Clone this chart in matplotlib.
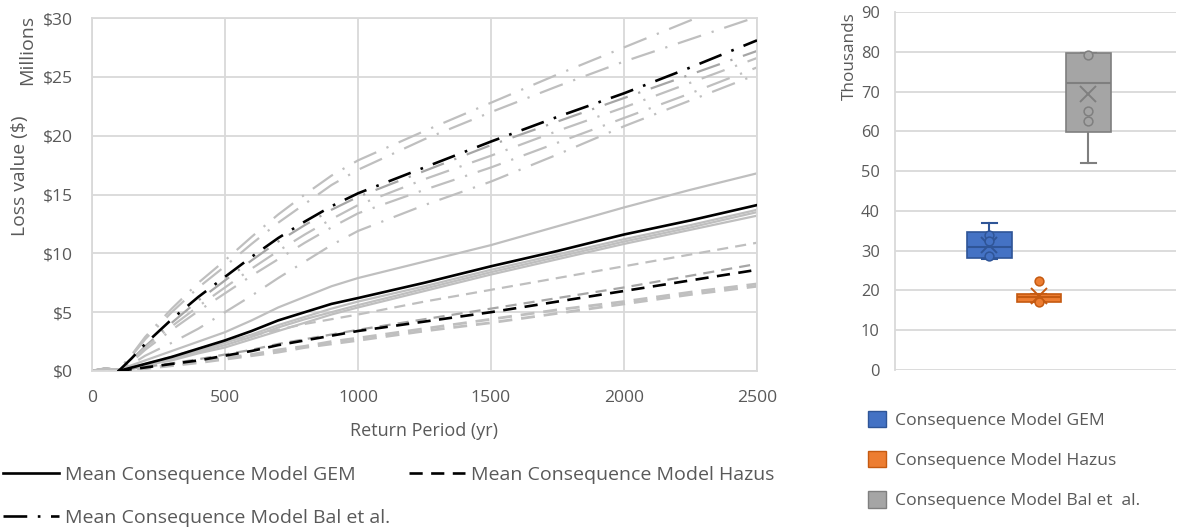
import numpy as np
import matplotlib.pyplot as plt
from matplotlib.patches import Patch

plt.rcParams['font.family'] = ['Open Sans', 'DejaVu Sans']
TXT = '#595959'
GRID = '#d9d9d9'
nan = np.nan

# ---- left chart: loss curves ($ millions) vs return period (yr)
return_period = [0, 50, 100, 150, 200, 300, 400, 500, 600, 700, 800, 900,
                 1000, 1250, 1500, 1750, 2000, 2250, 2500]

gem_mean = [nan, nan, 0.0, 0.3, 0.6, 1.2, 1.9, 2.6, 3.4, 4.3, 5.0, 5.7,
            6.2, 7.5, 8.9, 10.2, 11.6, 12.8, 14.1]
gem_runs = [
    [0, 0.2, 0.1, 0.5, 0.9, 1.7, 2.5, 3.3, 4.3, 5.4, 6.3, 7.2, 7.9, 9.3, 10.7, 12.3, 13.9, 15.4, 16.8],
    [0, 0.2, 0.1, 0.3, 0.6, 1.1, 1.7, 2.4, 3.1, 3.9, 4.6, 5.3, 5.9, 7.2, 8.6, 9.9, 11.2, 12.4, 13.7],
    [0, 0.2, 0.1, 0.3, 0.5, 1.0, 1.6, 2.2, 2.9, 3.7, 4.4, 5.0, 5.6, 7.0, 8.4, 9.7, 11.0, 12.2, 13.5],
    [0, 0.2, 0.1, 0.2, 0.5, 0.9, 1.5, 2.0, 2.7, 3.4, 4.1, 4.8, 5.4, 6.8, 8.2, 9.5, 10.8, 12.0, 13.2],
]

hazus_mean = [nan, nan, 0.0, 0.15, 0.3, 0.6, 0.9, 1.3, 1.7, 2.2, 2.6, 3.0,
              3.4, 4.2, 5.0, 5.9, 6.8, 7.7, 8.6]
hazus_runs = [
    [0, 0.2, 0.1, 0.3, 0.6, 1.2, 1.9, 2.5, 3.0, 3.5, 4.0, 4.4, 4.8, 5.9, 6.9, 7.9, 8.9, 9.9, 10.9],
    [0, 0.2, 0.1, 0.2, 0.35, 0.65, 1.0, 1.4, 1.8, 2.3, 2.7, 3.1, 3.5, 4.4, 5.3, 6.2, 7.1, 8.1, 9.1],
    [0, 0.2, 0.1, 0.15, 0.25, 0.5, 0.8, 1.1, 1.4, 1.8, 2.1, 2.5, 2.8, 3.6, 4.4, 5.2, 5.9, 6.7, 7.4],
    [0, 0.2, 0.1, 0.1, 0.2, 0.45, 0.7, 1.0, 1.3, 1.6, 2.0, 2.3, 2.6, 3.4, 4.1, 4.9, 5.7, 6.5, 7.2],
]

bal_mean = [nan, nan, 0.0, 1.1, 2.3, 4.4, 6.3, 8.0, 9.7, 11.3, 12.7, 14.0,
            15.1, 17.3, 19.5, 21.6, 23.6, 25.8, 28.1]
bal_runs = [
    [0, 0.2, 0.1, 1.4, 2.9, 5.3, 7.5, 9.4, 11.4, 13.3, 15.0, 16.6, 17.9, 20.4, 22.8, 25.2, 27.5, 29.8, 32.2],
    [0, 0.2, 0.1, 1.3, 2.7, 5.0, 7.1, 8.9, 10.8, 12.6, 14.2, 15.8, 17.1, 19.7, 22.0, 24.2, 26.3, 28.2, 30.1],
    [0, 0.2, 0.1, 1.0, 2.1, 4.1, 6.0, 7.7, 9.4, 11.0, 12.4, 13.7, 14.8, 17.0, 19.2, 21.2, 23.2, 25.2, 27.2],
    [0, 0.2, 0.1, 0.9, 2.0, 3.8, 5.5, 7.1, 8.7, 10.2, 11.6, 12.9, 14.1, 16.3, 18.3, 20.4, 22.4, 24.5, 26.6],
    [0, 0.2, 0.1, 0.8, 1.8, 3.5, 5.1, 6.6, 8.1, 9.5, 10.9, 12.2, 13.4, 15.4, 17.3, 19.4, 21.5, 23.6, 25.8],
    [0, 0.2, 0.1, 0.6, 1.3, 2.4, 3.6, 5.0, 6.4, 7.9, 9.3, 10.7, 11.9, 14.1, 16.1, 18.4, 20.8, 23.0, 25.2],
]
line_labels = ['Mean Consequence Model GEM', 'Mean Consequence Model Hazus',
               'Mean Consequence Model Bal et al.']

# ---- right chart: box plot (thousands)
box_labels = ['Consequence Model GEM', 'Consequence Model Hazus',
              'Consequence Model Bal et  al.']
box_whislo = [27.8, 17.0, 52.0]
box_q1 = [28.2, 17.0, 59.9]
box_med = [30.9, 18.3, 72.1]
box_q3 = [34.7, 19.2, 79.6]
box_whishi = [36.9, 19.2, 79.6]
box_mean = [31.4, 18.7, 69.5]
box_points = [[33.9, 32.4, 28.6], [22.5, 17.0], [79.2, 65.0, 62.5]]
box_colors = ['#4472c4', '#ed7d31', '#a5a5a5']
box_edges = ['#2f5597', '#c55a11', '#7f7f7f']

W, H = 1178, 529
fig = plt.figure(figsize=(W / 100, H / 100), dpi=100)

# left axes
ax = fig.add_axes([92 / W, 1 - 371 / H, 665 / W, 353 / H])
dash = (0, (5, 3.2))
dashdot = (0, (9, 4, 1, 4))
for r in gem_runs:
    ax.plot(return_period, r, color='#bfbfbf', lw=1.6, zorder=2)
for i, r in enumerate(hazus_runs):
    ax.plot(return_period, r, color='#a6a6a6' if i == 1 else '#bfbfbf',
            lw=2.0 if i >= 2 else 1.6, linestyle=dash, dash_capstyle='butt', zorder=2)
for i, r in enumerate(bal_runs):
    ax.plot(return_period, r, color='#a6a6a6' if i == 2 else '#bfbfbf',
            lw=1.6, linestyle=(0, (11, 5, 1, 5)), dash_capstyle='butt', zorder=2)
l1, = ax.plot(return_period, gem_mean, color='black', lw=1.9, zorder=3)
l2, = ax.plot(return_period, hazus_mean, color='black', lw=1.9, linestyle=dash,
              dash_capstyle='butt', zorder=3)
l3, = ax.plot(return_period, bal_mean, color='black', lw=1.9, linestyle=dashdot,
              dash_capstyle='butt', zorder=3)

ax.set_xlim(0, 2500)
ax.set_ylim(0, 30)
ax.set_xticks(range(0, 2501, 500))
ax.set_yticks(range(0, 31, 5))
ax.set_yticklabels(['$%d' % v for v in range(0, 31, 5)])
ax.grid(True, color=GRID, lw=1.3)
ax.set_axisbelow(True)
for s in ax.spines.values():
    s.set_color(GRID)
    s.set_linewidth(1.3)
ax.tick_params(axis='both', length=0, labelcolor=TXT, labelsize=12.6)
ax.tick_params(axis='y', pad=13.5)
ax.tick_params(axis='x', pad=14)
ax.set_xlabel('Return Period (yr)', color=TXT, fontsize=13, labelpad=11)
ax.text(-0.108, 0.552, 'Loss value ($)', transform=ax.transAxes, rotation=90,
        ha='center', va='center', color=TXT, fontsize=13.9)
ax.text(-0.0977, 1.009, 'Millions', transform=ax.transAxes, rotation=90,
        ha='center', va='top', color=TXT, fontsize=14)

fig.legend([l1, l3, l2], [line_labels[0], line_labels[2], line_labels[1]],
           ncol=2, loc='upper left', bbox_to_anchor=(3 / W, 1 - 466 / H),
           frameon=False, fontsize=14, handlelength=2.9, handletextpad=0.3,
           columnspacing=0.95, labelspacing=1.27, borderpad=0, borderaxespad=0,
           labelcolor=TXT)

# right axes
ax2 = fig.add_axes([895 / W, 1 - 370 / H, (1176 - 895) / W, 358 / H])
positions = [1, 2, 3]
stats = []
for i in range(3):
    stats.append(dict(whislo=box_whislo[i], q1=box_q1[i], med=box_med[i],
                      q3=box_q3[i], whishi=box_whishi[i], mean=box_mean[i],
                      fliers=[], label=box_labels[i]))
bp = ax2.bxp(stats, positions=positions, widths=0.9, patch_artist=True,
             showmeans=True, capwidths=0.3)
for i in range(3):
    bp['boxes'][i].set(facecolor=box_colors[i], edgecolor=box_edges[i], lw=1.2, zorder=3)
    bp['medians'][i].set(color=box_edges[i], lw=1.5, zorder=4)
    for k in (2 * i, 2 * i + 1):
        bp['whiskers'][k].set(color=box_edges[i], lw=1.5)
        bp['caps'][k].set(color=box_edges[i], lw=1.5)
    bp['means'][i].set(marker='x', markersize=11, markeredgewidth=1.4,
                       markeredgecolor=box_edges[i], zorder=5)
    ax2.scatter([positions[i]] * len(box_points[i]), box_points[i], s=40,
                facecolor=box_colors[i], edgecolor=box_edges[i], lw=1.1, zorder=5)

ax2.set_xlim(-0.905, 4.77)
ax2.set_ylim(0, 90)
ax2.set_yticks(range(0, 91, 10))
ax2.set_xticks([])
ax2.grid(True, axis='y', color=GRID, lw=1.3)
ax2.set_axisbelow(True)
for name in ('top', 'right', 'bottom'):
    ax2.spines[name].set_visible(False)
ax2.spines['left'].set_color(GRID)
ax2.spines['left'].set_linewidth(1.3)
ax2.tick_params(axis='y', length=0, labelcolor=TXT, labelsize=11.8, pad=11)
ax2.text(-0.16, 1.0, 'Thousands', transform=ax2.transAxes, rotation=90,
         ha='center', va='top', color=TXT, fontsize=12.3)

handles = [Patch(facecolor=box_colors[i], edgecolor=box_edges[i]) for i in range(3)]
fig.legend(handles, box_labels, loc='upper left', bbox_to_anchor=(868 / W, 1 - 411 / H),
           frameon=False, fontsize=12.6, handlelength=1.05, handleheight=1.05,
           handletextpad=0.5, labelspacing=1.26, borderpad=0, borderaxespad=0,
           labelcolor=TXT)

fig.savefig('out.png', dpi=100)
